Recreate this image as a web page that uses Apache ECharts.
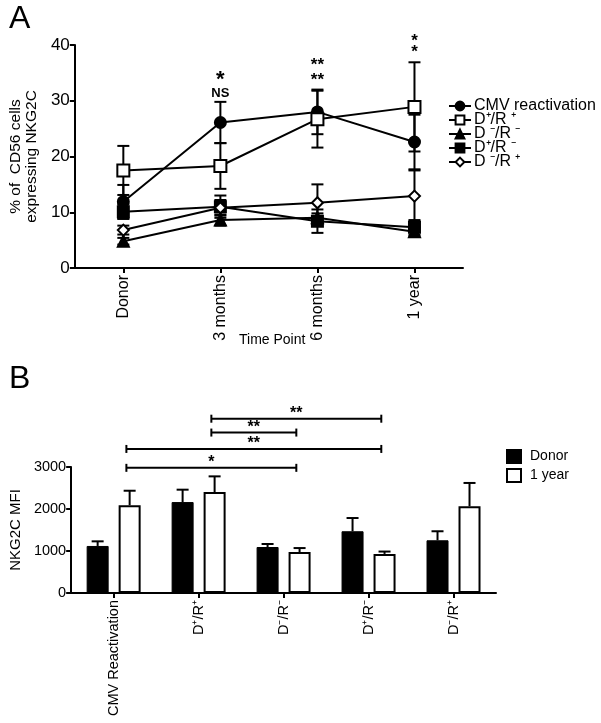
<!DOCTYPE html>
<html><head><meta charset="utf-8">
<script src="https://cdn.jsdelivr.net/npm/echarts@6/dist/echarts.min.js"></script>
<style>html,body{margin:0;padding:0;background:#fff}#c{width:601px;height:723px}</style>
</head><body><div id="c"></div>
<script>
// ---------- Panel A data ----------
var timePoints = ['Donor', '3 months', '6 months', '1 year'];
var seriesNames = ['CMV reactivation', 'D\u207A/R \u207A', 'D \u207B/R \u207B', 'D\u207A/R \u207B', 'D \u207B/R \u207A'];
var cmvMean   = [11.9, 26.1, 28.0, 22.6];
var cmvErr    = [3.0, 3.7, 4.0, 4.9];
var ppMean    = [17.5, 18.3, 26.7, 28.9];
var ppErr     = [4.4, 4.1, 5.1, 8.0];
var nnMean    = [4.8, 8.6, 9.0, 6.5];
var nnErr     = [0.6, 1.0, 0.8, 0.8];
var pnMean    = [10.1, 11.0, 8.4, 7.3];
var pnErr     = [1.3, 2.0, 2.1, 1.3];
var npMean    = [6.8, 10.8, 11.7, 12.9];
var npErr     = [0.8, 1.4, 3.3, 4.6];
var yTicksA   = [0, 10, 20, 30, 40];
// significance labels: [categoryIndex, yValue, text]
var sigA = [[1, 33.8, '*'], [1, 31.4, 'NS'], [2, 36.4, '**'], [2, 33.7, '**'], [3, 40.6, '*'], [3, 38.7, '*']];

// ---------- Panel B data ----------
var groups = ['CMV Reactivation', 'D\u207A/R\u207A', 'D\u207B/R\u207B', 'D\u207A/R\u207B', 'D\u207B/R\u207A'];
var donorMFI    = [1120, 2165, 1095, 1470, 1255];
var donorMFIErr = [110, 295, 72, 315, 215];
var yearMFI     = [2090, 2405, 975, 930, 2065];
var yearMFIErr  = [345, 372, 95, 57, 555];
var yTicksB     = [0, 1000, 2000, 3000];
// brackets: [fromGroup, toGroup, yValue, text]
var bracketsB = [[0, 2, 2980, '*'], [0, 3, 3430, '**'], [1, 2, 3820, '**'], [1, 3, 4150, '**']];

var FONT = 'Liberation Sans, Arial, Helvetica, sans-serif';
var BARW = 22, BARGAP = 10;

var symbols = ['circle', 'emptyRect', 'triangle', 'rect', 'emptyDiamond'];
var symSizes = [11, 12, 11, 11, 11];
var means = [cmvMean, ppMean, nnMean, pnMean, npMean];
var errs = [cmvErr, ppErr, nnErr, pnErr, npErr];

var chart = echarts.init(document.getElementById('c'), null, {renderer: 'canvas'});

var series = [];
var errData = [];
means.forEach(function (m, s) {
  m.forEach(function (v, i) { errData.push([i, v - errs[s][i], v + errs[s][i]]); });
});
series.push({
  type: 'custom', xAxisIndex: 0, yAxisIndex: 0, z: 1, silent: true,
  data: errData,
  renderItem: function (params, api) {
    var lo = api.coord([api.value(0), api.value(1)]);
    var hi = api.coord([api.value(0), api.value(2)]);
    var hw = 6;
    var st = {stroke: '#000', lineWidth: 2};
    return {type: 'group', children: [
      {type: 'line', shape: {x1: lo[0], y1: lo[1], x2: hi[0], y2: hi[1]}, style: st},
      {type: 'line', shape: {x1: lo[0] - hw, y1: lo[1], x2: lo[0] + hw, y2: lo[1]}, style: st},
      {type: 'line', shape: {x1: hi[0] - hw, y1: hi[1], x2: hi[0] + hw, y2: hi[1]}, style: st}
    ]};
  }
});
means.forEach(function (m, s) {
  series.push({
    name: seriesNames[s], type: 'line', xAxisIndex: 0, yAxisIndex: 0, z: 3,
    data: m, symbol: symbols[s], symbolSize: symSizes[s],
    lineStyle: {color: '#000', width: 2},
    itemStyle: {color: '#000', borderColor: '#000', borderWidth: 2},
    emphasis: {disabled: true}
  });
});
series.push({
  type: 'custom', xAxisIndex: 0, yAxisIndex: 0, z: 4, silent: true, clip: false,
  data: sigA,
  renderItem: function (params, api) {
    var p = api.coord([api.value(0), api.value(1)]);
    var t = sigA[params.dataIndex][2];
    var big = (t === '*' && params.dataIndex === 0);
    return {type: 'text', x: p[0], y: p[1], style: {
      text: t, textAlign: 'center', textVerticalAlign: 'middle', fill: '#000',
      font: 'bold ' + (t === 'NS' ? 13 : (big ? 22 : 17)) + 'px ' + FONT}};
  }
});

series.push({
  name: 'Donor', type: 'bar', xAxisIndex: 1, yAxisIndex: 1, data: donorMFI,
  barWidth: BARW, barGap: (BARGAP / BARW * 100) + '%',
  itemStyle: {color: '#000', borderColor: '#000', borderWidth: 1}
});
series.push({
  name: '1 year', type: 'bar', xAxisIndex: 1, yAxisIndex: 1, data: yearMFI,
  barWidth: BARW,
  itemStyle: {color: '#fff', borderColor: '#000', borderWidth: 2}
});
var barErrData = [];
donorMFI.forEach(function (v, i) { barErrData.push([i, v, v + donorMFIErr[i], -1]); });
yearMFI.forEach(function (v, i) { barErrData.push([i, v, v + yearMFIErr[i], 1]); });
series.push({
  type: 'custom', xAxisIndex: 1, yAxisIndex: 1, z: 1, silent: true,
  data: barErrData,
  renderItem: function (params, api) {
    var off = api.value(3) * (BARW + BARGAP) / 2;
    var lo = api.coord([api.value(0), api.value(1)]);
    var hi = api.coord([api.value(0), api.value(2)]);
    var x = lo[0] + off, hw = 6;
    var st = {stroke: '#000', lineWidth: 2};
    return {type: 'group', children: [
      {type: 'line', shape: {x1: x, y1: lo[1], x2: x, y2: hi[1]}, style: st},
      {type: 'line', shape: {x1: x - hw, y1: hi[1], x2: x + hw, y2: hi[1]}, style: st}
    ]};
  }
});
series.push({
  type: 'custom', xAxisIndex: 1, yAxisIndex: 1, z: 4, silent: true, clip: false,
  data: bracketsB,
  renderItem: function (params, api) {
    var band = api.size([1, 0])[0];
    var a = api.coord([api.value(0), api.value(2)]);
    var b = api.coord([api.value(1), api.value(2)]);
    var x1 = a[0] + band * 0.15, x2 = b[0] + band * 0.15, y = a[1];
    var st = {stroke: '#000', lineWidth: 2};
    return {type: 'group', children: [
      {type: 'line', shape: {x1: x1, y1: y, x2: x2, y2: y}, style: st},
      {type: 'line', shape: {x1: x1, y1: y - 4, x2: x1, y2: y + 4}, style: st},
      {type: 'line', shape: {x1: x2, y1: y - 4, x2: x2, y2: y + 4}, style: st},
      {type: 'text', x: (x1 + x2) / 2, y: y + 3, style: {text: bracketsB[params.dataIndex][3],
        textAlign: 'center', textVerticalAlign: 'bottom', fill: '#000', font: 'bold 16px ' + FONT}}
    ]};
  }
});

var axisLine = {show: true, lineStyle: {color: '#000', width: 2}};
var axisTick = {show: true, length: 5, lineStyle: {color: '#000', width: 2}};

chart.setOption({
  animation: false,
  backgroundColor: '#fff',
  textStyle: {fontFamily: FONT},
  graphic: [
    {type: 'text', left: 9, top: 3, style: {text: 'A', font: '32px ' + FONT, fill: '#000'}},
    {type: 'text', left: 9, top: 363, style: {text: 'B', font: '32px ' + FONT, fill: '#000'}},
    {type: 'text', left: 239, top: 333, style: {text: 'Time Point', font: '14px ' + FONT, fill: '#000'}}
  ],
  grid: [
    {left: 70, right: 138, top: 45, height: 223, containLabel: false},
    {left: 66, right: 105, top: 467, height: 126, containLabel: false}
  ],
  legend: [
    {data: seriesNames, orient: 'vertical', left: 443, top: 93, itemWidth: 22, itemHeight: 11,
      itemGap: -2, selectedMode: false,
      textStyle: {fontSize: 16, color: '#000', fontFamily: FONT, padding: [0, 0, 0, -2]}},
    {data: ['Donor', '1 year'], orient: 'vertical', left: 501, top: 444, itemWidth: 14, itemHeight: 13,
      itemGap: 4, selectedMode: false, icon: 'rect',
      textStyle: {fontSize: 14, color: '#000', fontFamily: FONT, padding: [0, 0, 0, 4]}}
  ],
  xAxis: [
    {type: 'category', gridIndex: 0, data: timePoints, boundaryGap: true,
      axisLine: axisLine, axisTick: Object.assign({alignWithLabel: true}, axisTick),
      axisLabel: {rotate: 90, fontSize: 16, color: '#000', margin: 7, fontFamily: FONT}},
    {type: 'category', gridIndex: 1, data: groups, boundaryGap: true,
      axisLine: axisLine, axisTick: Object.assign({alignWithLabel: true}, axisTick),
      axisLabel: {rotate: 90, fontSize: 14.5, color: '#000', margin: 7, fontFamily: FONT}}
  ],
  yAxis: [
    {type: 'value', gridIndex: 0, min: yTicksA[0], max: yTicksA[yTicksA.length - 1], interval: 10,
      axisLine: axisLine, axisTick: axisTick, splitLine: {show: false},
      axisLabel: {fontSize: 17, color: '#000', margin: 5, fontFamily: FONT},
      name: '% of  CD56 cells\nexpressing NKG2C', nameLocation: 'middle', nameGap: 31, nameRotate: 90,
      nameTextStyle: {fontSize: 15.5, color: '#000', lineHeight: 16, fontFamily: FONT}},
    {type: 'value', gridIndex: 1, min: yTicksB[0], max: yTicksB[yTicksB.length - 1], interval: 1000,
      axisLine: axisLine, axisTick: axisTick, splitLine: {show: false},
      axisLabel: {fontSize: 14.5, color: '#000', margin: 5, fontFamily: FONT,
        formatter: function (v) { return String(v); }},
      name: 'NKG2C MFI', nameLocation: 'middle', nameGap: 47, nameRotate: 90,
      nameTextStyle: {fontSize: 15, color: '#000', fontFamily: FONT}}
  ],
  series: series
});
</script>
</body></html>
